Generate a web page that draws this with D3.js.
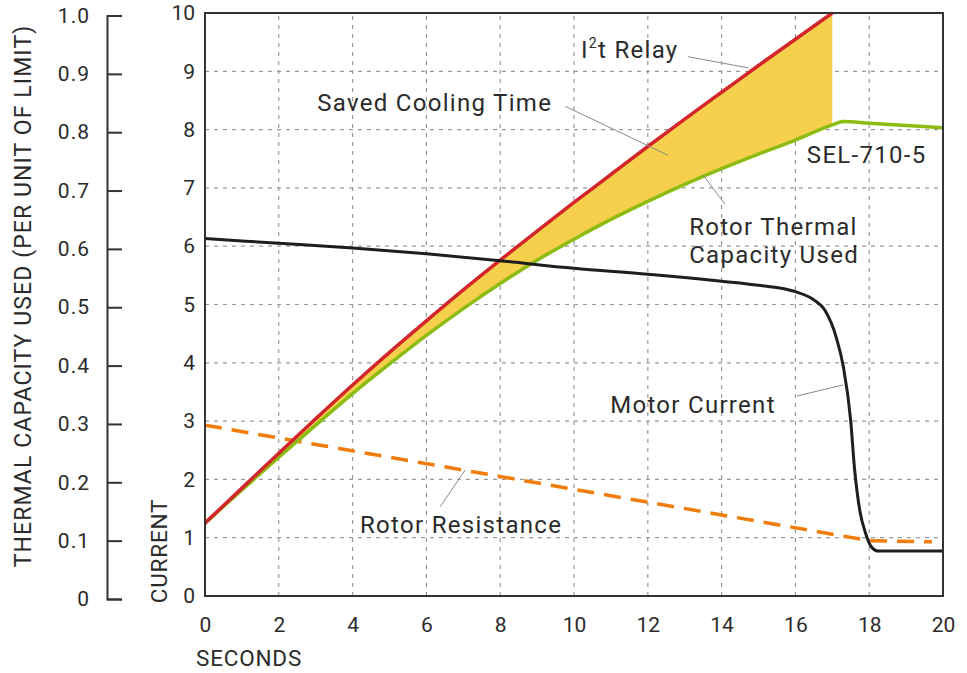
<!DOCTYPE html>
<html>
<head>
<meta charset="utf-8">
<script src="https://cdn.jsdelivr.net/npm/d3@7"></script>
<style>
  html, body { margin: 0; padding: 0; background: #fff; }
  svg { display: block; font-family: Roboto, "Open Sans", sans-serif; }
</style>
</head>
<body>
<div id="chart"></div>
<script>
// --- data ---
const relaySeconds = [0, 1, 2, 3, 4, 5, 6, 7, 8, 9, 10, 11, 12, 13, 14, 15, 16, 17];
const relayValues = [1.25, 1.85, 2.45, 3.04, 3.62, 4.18, 4.72, 5.25, 5.76, 6.26, 6.75, 7.23, 7.71, 8.18, 8.64, 9.1, 9.55, 10.0];

const thermalSeconds = [0, 1, 2, 3, 4, 5, 6, 7, 8, 9, 10, 11, 12, 13, 14, 15, 16, 17, 17.3, 18, 19, 20];
const thermalValues = [1.25, 1.82, 2.38, 2.93, 3.47, 3.98, 4.47, 4.93, 5.36, 5.76, 6.12, 6.46, 6.77, 7.06, 7.33, 7.58, 7.82, 8.08, 8.14, 8.11, 8.07, 8.03];

const currentSeconds = [0, 2, 4, 6, 8, 10, 12, 14, 15, 16, 16.5, 16.8, 17.1, 17.3, 17.5, 17.6, 17.75, 17.9, 18.05, 18.25, 20];
const currentValues = [6.13, 6.05, 5.97, 5.87, 5.75, 5.62, 5.52, 5.4, 5.33, 5.22, 5.08, 4.9, 4.45, 3.93, 3.0, 2.2, 1.45, 1.08, 0.85, 0.77, 0.77];

const resistSeconds = [0, 18, 19.7];
const resistValues = [2.93, 0.95, 0.93];

const secondTicks = [0, 2, 4, 6, 8, 10, 12, 14, 16, 18, 20];
const currentTicks = [0, 1, 2, 3, 4, 5, 6, 7, 8, 9, 10];
const capacityTicks = [0, 0.1, 0.2, 0.3, 0.4, 0.5, 0.6, 0.7, 0.8, 0.9, 1.0];

const width = 967, height = 673;
const textColor = "#2b2b2b";

const svg = d3.select("#chart").append("svg")
  .attr("width", width)
  .attr("height", height);

const x = d3.scaleLinear().domain([0, 20]).range([205, 943]);
const y = d3.scaleLinear().domain([0, 10]).range([596, 13]);
const yCap = d3.scaleLinear().domain([0, 1]).range([599, 15.5]);

// grid
svg.append("g")
  .selectAll("line")
  .data(secondTicks.filter(d => d > 0 && d < 20))
  .join("line")
  .attr("x1", d => x(d)).attr("x2", d => x(d))
  .attr("y1", y(0)).attr("y2", y(10))
  .attr("stroke", "#9a9a9a").attr("stroke-width", 1.2)
  .attr("stroke-dasharray", "4,5");

svg.append("g")
  .selectAll("line")
  .data(currentTicks.filter(d => d > 0 && d < 10))
  .join("line")
  .attr("x1", x(0)).attr("x2", x(20))
  .attr("y1", d => y(d)).attr("y2", d => y(d))
  .attr("stroke", "#9a9a9a").attr("stroke-width", 1.2)
  .attr("stroke-dasharray", "4,5");

// saved cooling area
const relay = relaySeconds.map((s, i) => ({s, v: relayValues[i], low: thermalValues[i]}));
svg.append("path")
  .datum(relay)
  .attr("fill", "#f6d04d")
  .attr("d", d3.area()
    .x(d => x(d.s))
    .y0(d => y(d.low))
    .y1(d => y(d.v))
    .curve(d3.curveMonotoneX));

const line = d3.line().x(d => x(d.s)).y(d => y(d.v)).curve(d3.curveMonotoneX);

const resist = resistSeconds.map((s, i) => ({s, v: resistValues[i]}));
svg.append("path")
  .datum(resist)
  .attr("fill", "none")
  .attr("stroke", "#f07d0a")
  .attr("stroke-width", 3.5)
  .attr("stroke-dasharray", "17,10")
  .attr("d", d3.line().x(d => x(d.s)).y(d => y(d.v)));

const thermal = thermalSeconds.map((s, i) => ({s, v: thermalValues[i]}));
svg.append("path")
  .datum(thermal)
  .attr("fill", "none")
  .attr("stroke", "#8cbc12")
  .attr("stroke-width", 3.5)
  .attr("d", line);

svg.append("path")
  .datum(relay)
  .attr("fill", "none")
  .attr("stroke", "#d3262a")
  .attr("stroke-width", 3.5)
  .attr("d", line);

const current = currentSeconds.map((s, i) => ({s, v: currentValues[i]}));
svg.append("path")
  .datum(current)
  .attr("fill", "none")
  .attr("stroke", "#1e1e1e")
  .attr("stroke-width", 3)
  .attr("d", line);

// frame
svg.append("rect")
  .attr("x", x(0)).attr("y", y(10))
  .attr("width", x(20) - x(0)).attr("height", y(0) - y(10))
  .attr("fill", "none").attr("stroke", "#333").attr("stroke-width", 2);

// right (current) axis
const axCurrent = svg.append("g")
  .attr("transform", `translate(${x(0)},0)`)
  .call(d3.axisLeft(y).tickValues(currentTicks).tickSize(0).tickPadding(10));
axCurrent.select(".domain").remove();
axCurrent.selectAll("text").attr("font-size", 21).attr("fill", textColor).attr("font-family", "Roboto");

// bottom axis
const axSec = svg.append("g")
  .attr("transform", `translate(0,${y(0)})`)
  .call(d3.axisBottom(x).tickValues(secondTicks).tickSize(0).tickPadding(21));
axSec.select(".domain").remove();
axSec.selectAll("text").attr("font-size", 21).attr("fill", textColor).attr("font-family", "Roboto");

// left (thermal capacity) axis
const axCap = svg.append("g")
  .attr("transform", "translate(107,0)")
  .call(d3.axisRight(yCap).tickValues(capacityTicks).tickSize(15)
    .tickFormat(d => d === 0 ? "0" : d3.format(".1f")(d)));
axCap.selectAll("path, line").attr("stroke", "#333").attr("stroke-width", 2);
axCap.selectAll("text")
  .attr("x", -17)
  .attr("text-anchor", "end")
  .attr("letter-spacing", 1)
  .attr("font-size", 21).attr("fill", textColor).attr("font-family", "Roboto");

// axis titles
svg.append("text")
  .attr("transform", `translate(31,296) rotate(-90)`)
  .attr("text-anchor", "middle")
  .attr("font-size", 23).attr("letter-spacing", 1.1).attr("fill", textColor)
  .text("THERMAL CAPACITY USED (PER UNIT OF LIMIT)");

svg.append("text")
  .attr("transform", `translate(167,551) rotate(-90)`)
  .attr("text-anchor", "middle")
  .attr("font-size", 22.5).attr("letter-spacing", 0.8).attr("fill", textColor)
  .text("CURRENT");

svg.append("text")
  .attr("x", 196).attr("y", 666)
  .attr("font-size", 22.5).attr("letter-spacing", 0.8).attr("fill", textColor)
  .text("SECONDS");

// annotations
const leaders = [
  [13.09, 9.25, 14.72, 9.06],
  [9.76, 8.40, 12.55, 7.56],
  [14.09, 6.72, 13.5, 7.22],
  [16.04, 3.43, 17.29, 3.62],
  [6.37, 1.53, 7.05, 2.16]
];
svg.append("g")
  .selectAll("line")
  .data(leaders)
  .join("line")
  .attr("x1", d => x(d[0])).attr("y1", d => y(d[1]))
  .attr("x2", d => x(d[2])).attr("y2", d => y(d[3]))
  .attr("stroke", "#8a8a8a").attr("stroke-width", 1);

const labels = [
  {s: 3.04, v: 8.32, text: "Saved Cooling Time"},
  {s: 16.31, v: 7.43, text: "SEL-710-5"},
  {s: 13.12, v: 6.2, text: "Rotor Thermal"},
  {s: 13.12, v: 5.72, text: "Capacity Used"},
  {s: 10.98, v: 3.14, text: "Motor Current"},
  {s: 4.2, v: 1.08, text: "Rotor Resistance"}
];
svg.append("g")
  .selectAll("text")
  .data(labels)
  .join("text")
  .attr("x", d => x(d.s)).attr("y", d => y(d.v))
  .attr("font-size", 24).attr("letter-spacing", 1.3).attr("fill", textColor)
  .text(d => d.text);

const relayLabel = svg.append("text")
  .attr("x", x(10.19)).attr("y", y(9.23))
  .attr("font-size", 24).attr("letter-spacing", 1.3).attr("fill", textColor);
relayLabel.append("tspan").text("I");
relayLabel.append("tspan").attr("font-size", 14).attr("dy", -10).text("2");
relayLabel.append("tspan").attr("dy", 10).text("t Relay");
</script>
</body>
</html>
